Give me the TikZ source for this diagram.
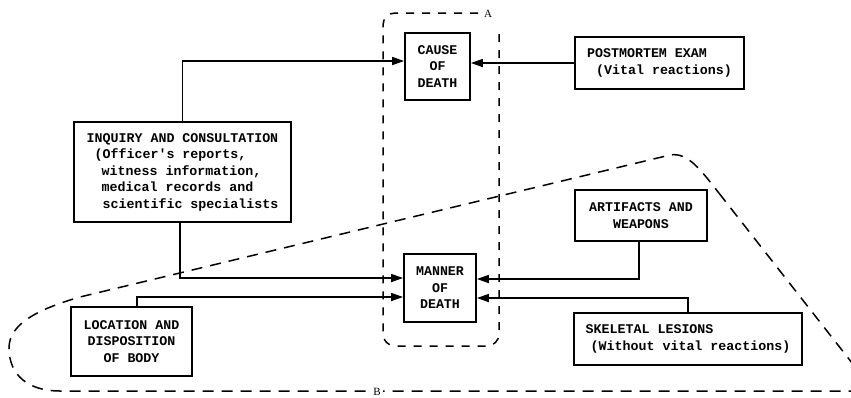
\documentclass[tikz,border=0pt]{standalone}
\usepackage{fontspec}
\setmonofont{Liberation Mono}
\newfontfamily\labfont{Liberation Serif}
\usetikzlibrary{arrows.meta}
\tikzset{
  box/.style={draw, line width=1.8pt, inner sep=0pt, font=\ttfamily\bfseries\fontsize{13.3}{16.5}\selectfont},
  arr/.style={line width=1.7pt, -{Triangle[length=12pt,width=8pt]}},
  dashA/.style={line width=1.5pt, dash pattern=on 8pt off 8pt, rounded corners=12pt},
  dashB/.style={line width=1.5pt, dash pattern=on 11pt off 8pt},
  lab/.style={fill=white, inner sep=2pt, font=\labfont\fontsize{11}{13}\selectfont}
}
\begin{document}
\begin{tikzpicture}[x=1pt,y=-1pt]
\path[use as bounding box] (0,0) rectangle (851,397);
\clip (0,0) rectangle (851,397);
\fill[white] (0,0) rectangle (851,397);

% dashed regions
\draw[dashA] (478,13) -- (383,13) -- (383,346) -- (499,346) -- (499,28);
\node[lab] (labA) at (488,14) {A};
\draw[dashB] (722,197) .. controls (700,169) and (688,152) .. (670,155) -- (80,297)
  .. controls (35,310) and (9,325) .. (9,348) .. controls (9,375) and (28,391) .. (60,391)
  -- (874,391) -- cycle;
\node[lab] (labB) at (377,392) {B};

% boxes
\node[box, minimum width=65pt, minimum height=67pt, align=center] (cause) at (437.5,66.5)
  {CAUSE\\OF\\DEATH};
\node[box, minimum width=72pt, minimum height=68pt, align=center] (manner) at (440,288)
  {MANNER\\OF\\DEATH};
\node[box, minimum width=169pt, minimum height=52pt, align=left] (post) at (659.5,63)
  {POSTMORTEM EXAM\\\hspace*{9pt}(Vital reactions)};
\node[box, minimum width=217pt, minimum height=100pt, align=left] (inq) at (182.5,172)
  {INQUIRY AND CONSULTATION\\\hspace*{8pt}(Officer's reports,\\\hspace*{15pt}witness information,\\\hspace*{15pt}medical records and\\\hspace*{16pt}scientific specialists};
\node[box, minimum width=132pt, minimum height=51pt, align=center] (art) at (641,215.5)
  {ARTIFACTS AND\\WEAPONS};
\node[box, minimum width=228pt, minimum height=52pt, align=left] (skel) at (688,339)
  {SKELETAL LESIONS\\\hspace*{5pt}(Without vital reactions)};
\node[box, minimum width=121pt, minimum height=69pt, align=center] (loc) at (131.5,341.5)
  {LOCATION AND\\DISPOSITION\\OF BODY};

% connectors
\draw[arr] (inq.north) |- ([yshift=5.5pt]cause.west);
\draw[arr] (post.west) -- (post.west -| cause.east);
\draw[arr] ([xshift=-2.5pt]inq.south) |- ([yshift=10pt]manner.west);
\draw[arr] ([xshift=5.5pt]loc.north) |- ([yshift=-9pt]manner.west);
\draw[arr] ([xshift=-2pt]art.south) |- ([yshift=9pt]manner.east);
\draw[arr] (skel.north) |- ([yshift=-10pt]manner.east);
\end{tikzpicture}
\end{document}
